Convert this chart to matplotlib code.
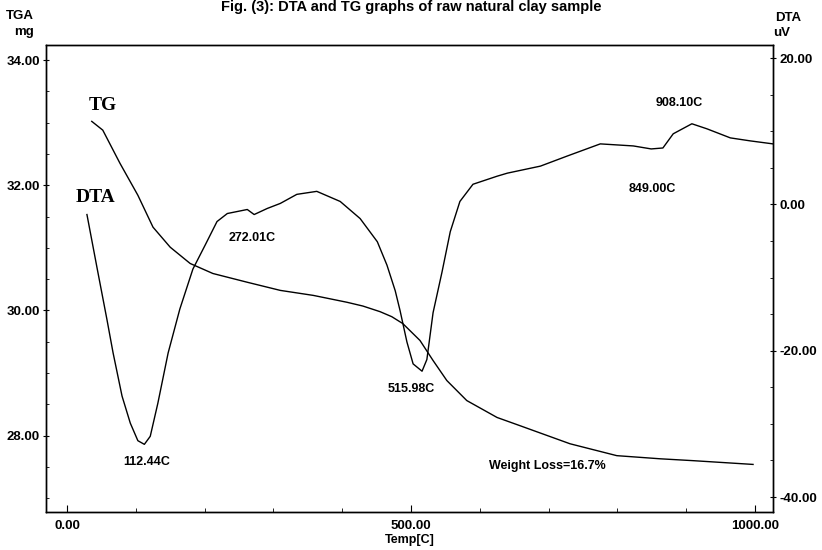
import numpy as np
import matplotlib.pyplot as plt
from matplotlib.ticker import MultipleLocator

# TG curve (mass, mg) vs temperature (C)
tg_temp = [36, 52, 77, 103, 125, 150, 179, 212, 262, 310, 358, 407, 430, 455, 472, 488, 513,
           532, 552, 581, 625, 658, 731, 799, 862, 910, 997]
tg_mass = [33.02, 32.88, 32.35, 31.84, 31.33, 31.01, 30.75, 30.59, 30.45, 30.32, 30.24, 30.13,
           30.07, 29.98, 29.90, 29.79, 29.52, 29.20, 28.88, 28.56, 28.29, 28.16, 27.87, 27.68,
           27.63, 27.60, 27.54]

# DTA curve (uV) vs temperature (C)
dta_temp = [29, 44, 58, 67, 80, 92, 103, 112.44, 121, 132, 147, 164, 183, 201, 218, 233, 262,
            272.01, 291, 310, 334, 363, 397, 426, 451, 465, 477, 484, 494, 503, 515.98, 523, 532,
            545, 557, 571, 590, 625, 640, 688, 727, 775, 823, 849, 866, 881, 908.1, 930, 964,
            993, 1026]
dta_uv = [-1.38, -8.83, -15.7, -20.3, -26.2, -29.9, -32.3, -32.8, -31.7, -27.2, -20.3, -14.3,
          -8.83, -5.52, -2.34, -1.24, -0.69, -1.38, -0.55, 0.14, 1.38, 1.79, 0.41, -1.93, -5.10,
          -8.3, -11.8, -14.5, -18.8, -21.8, -22.8, -21.2, -14.8, -9.24, -3.72, 0.41, 2.76, 3.86,
          4.28, 5.24, 6.62, 8.28, 8.00, 7.59, 7.72, 9.66, 11.03, 10.34, 9.10, 8.69, 8.28]

peak_labels = ["112.44C", "272.01C", "515.98C", "849.00C", "908.10C"]

fig = plt.figure(figsize=(8.22, 5.5), dpi=100)
ax1 = fig.add_axes([46 / 822, 38 / 550, 727 / 822, 467 / 550])
ax2 = ax1.twinx()

ax1.plot(tg_temp, tg_mass, color='black', lw=1.0)
ax2.plot(dta_temp, dta_uv, color='black', lw=1.0)

ax1.set_xlim(-30.5, 1026)
ax1.set_ylim(26.78, 34.24)
ax2.set_ylim(-42.05, 21.8)

tick_font = dict(family='Liberation Sans', weight='bold', size=9.5)

ax1.xaxis.set_minor_locator(MultipleLocator(100))
ax1.yaxis.set_minor_locator(MultipleLocator(0.5))
ax2.yaxis.set_minor_locator(MultipleLocator(5))

ax1.set_xticks([0, 500, 1000])
ax1.set_xticklabels(["0.00", "500.00", "1000.00"], fontdict=tick_font)
ax1.set_yticks([28, 30, 32, 34])
ax1.set_yticklabels(["28.00", "30.00", "32.00", "34.00"], fontdict=tick_font)
ax2.set_yticks([-40, -20, 0, 20])
ax2.set_yticklabels(["-40.00", "-20.00", "0.00", "20.00"], fontdict=tick_font)

ax1.tick_params(axis='x', which='major', direction='in', length=5, pad=6)
ax1.tick_params(axis='x', which='minor', direction='in', length=3)
ax1.tick_params(axis='y', which='major', direction='inout', length=5, pad=2)
ax1.tick_params(axis='y', which='minor', direction='in', length=2)
ax2.tick_params(axis='y', which='major', direction='inout', length=5, pad=2)
ax2.tick_params(axis='y', which='minor', direction='in', length=2)

for a in (ax1, ax2):
    for s in a.spines.values():
        s.set_linewidth(1.0)

ax1.set_xlabel("Temp[C]", fontdict=dict(family='Liberation Sans', weight='bold', size=9), labelpad=1)

fig.text(20 / 822, 1 - 16 / 550, "TGA", ha='center', va='center', **tick_font)
fig.text(24 / 822, 1 - 32 / 550, "mg", ha='center', va='center', **tick_font)
fig.text(788 / 822, 1 - 18 / 550, "DTA", ha='center', va='center', **tick_font)
fig.text(782 / 822, 1 - 33 / 550, "uV", ha='center', va='center', **tick_font)

fig.text(0.5, 1 - 11 / 550, "Fig. (3): DTA and TG graphs of raw natural clay sample",
         ha='center', va='baseline', family='Liberation Sans', weight='bold', size=10.5)

serif = dict(family='Liberation Serif', weight='bold', size=14)
ax1.text(52, 33.28, "TG", ha='center', va='center', **serif)
ax1.text(41, 31.81, "DTA", ha='center', va='center', **serif)

lab_font = dict(family='Liberation Sans', weight='bold', size=9)
lab_pos = [(116, 27.58), (269, 31.15), (501, 28.75), (850, 31.94), (890, 33.31)]
for txt, (x, y) in zip(peak_labels, lab_pos):
    ax1.text(x, y, txt, ha='center', va='center', **lab_font)
ax1.text(698, 27.52, "Weight Loss=16.7%", ha='center', va='center', **lab_font)

fig.savefig("out.png", dpi=100)
